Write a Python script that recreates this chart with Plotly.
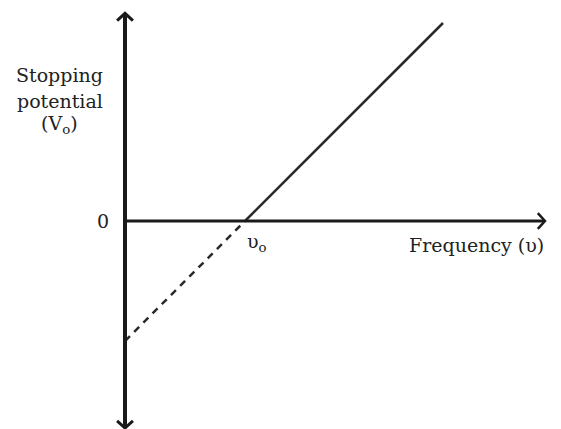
"""Stopping potential vs frequency (photoelectric effect) sketch"""
import plotly.graph_objects as go

# data (arbitrary units, slope h/e = 1, threshold frequency nu0 = 1)
nu_solid = [1.0, 2.65]
v_solid = [0.0, 1.65]
nu_dashed = [0.0, 1.0]
v_dashed = [-1.0, 0.0]

# axis extents
x_axis_end = 3.5
y_axis_top = 1.73
y_axis_bottom = -1.725

# y-axis title, one line per annotation to keep the tight leading
ylabel_lines = ["Stopping", "potential", "(V<sub>o</sub>)"]
ylabel_y = [1.217, 1.0, 0.808]

FONT = "DejaVu Serif"
INK = "#1a1a1a"
TXT = {"size": 19, "family": FONT, "color": "#222222"}

# page body adds an 8px offset, so the ranges are shifted to compensate
PX = 120.0  # pixels per unit
ORIGIN_X, ORIGIN_Y = 125 - 8, 221 - 8
W, H = 561, 429

fig = go.Figure()

fig.add_trace(
    go.Scatter(
        x=nu_dashed, y=v_dashed, mode="lines",
        line={"color": "#2a2a2a", "width": 2.5, "dash": "7px,6px"},
        hoverinfo="skip",
    )
)
fig.add_trace(
    go.Scatter(
        x=nu_solid, y=v_solid, mode="lines",
        line={"color": "#2a2a2a", "width": 2.5},
        hoverinfo="skip",
    )
)

# axes drawn as lines with open chevron heads
ah_w, ah_d = 0.066, 0.06
shapes = [
    dict(type="line", x0=0, x1=0, y0=y_axis_bottom, y1=y_axis_top,
         line={"color": INK, "width": 4}),
    dict(type="line", x0=0, x1=x_axis_end, y0=0, y1=0,
         line={"color": INK, "width": 3}),
    dict(type="path",
         path=f"M {-ah_w},{y_axis_top - ah_d} L 0,{y_axis_top} L {ah_w},{y_axis_top - ah_d}",
         line={"color": INK, "width": 3}),
    dict(type="path",
         path=f"M {-ah_w},{y_axis_bottom + ah_d} L 0,{y_axis_bottom} L {ah_w},{y_axis_bottom + ah_d}",
         line={"color": INK, "width": 3}),
    dict(type="path",
         path=f"M {x_axis_end - ah_d},{ah_w} L {x_axis_end},0 L {x_axis_end - ah_d},{-ah_w}",
         line={"color": INK, "width": 2.5}),
]

annotations = [
    dict(x=-0.542, y=yy, text=t, showarrow=False, font=TXT,
         xanchor="center", yanchor="middle")
    for t, yy in zip(ylabel_lines, ylabel_y)
]
annotations += [
    dict(x=-0.183, y=0.0, text="0", showarrow=False, font=TXT,
         xanchor="center", yanchor="middle"),
    dict(x=1.1, y=-0.175, text="υ<sub>o</sub>", showarrow=False, font=TXT,
         xanchor="center", yanchor="middle"),
    dict(x=2.933, y=-0.2, text="Frequency (υ)", showarrow=False, font=TXT,
         xanchor="center", yanchor="middle"),
]

fig.update_layout(
    width=W, height=H,
    margin={"l": 0, "r": 0, "t": 0, "b": 0, "autoexpand": False},
    paper_bgcolor="white", plot_bgcolor="white",
    showlegend=False,
    shapes=shapes,
    annotations=annotations,
    xaxis={"range": [-ORIGIN_X / PX, (W - ORIGIN_X) / PX], "visible": False,
           "fixedrange": True},
    yaxis={"range": [-(H - ORIGIN_Y) / PX, ORIGIN_Y / PX], "visible": False,
           "fixedrange": True},
)

fig.write_html("out.html")
